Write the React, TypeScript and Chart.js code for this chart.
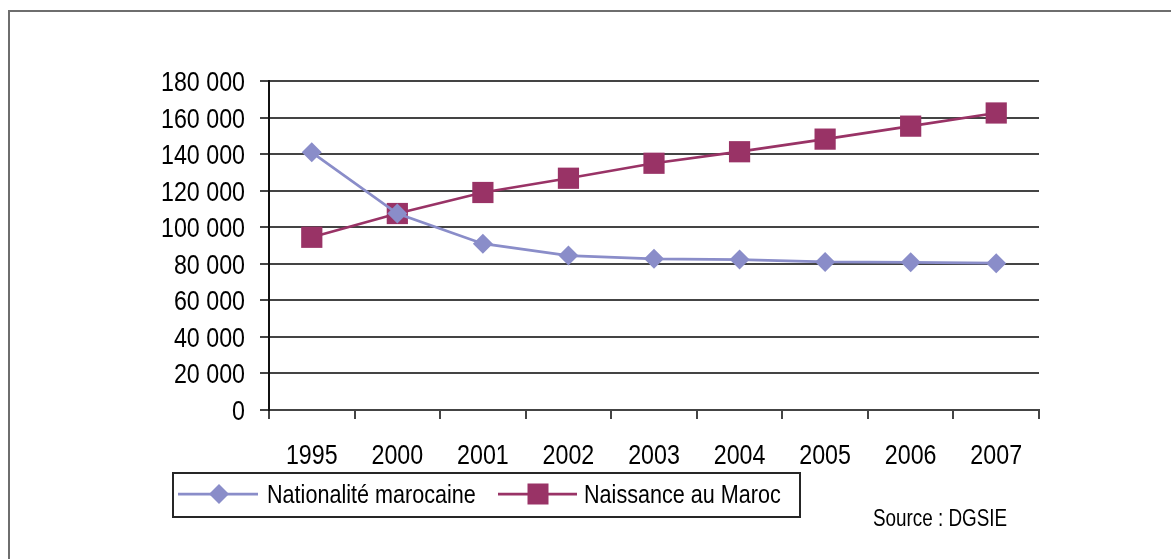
import React, { useEffect, useRef } from "react";
import { Chart, registerables } from "chart.js";

Chart.register(...registerables);

const categories = ["1995", "2000", "2001", "2002", "2003", "2004", "2005", "2006", "2007"];
const nationaliteMarocaine = [141000, 107500, 91000, 84500, 82700, 82300, 81000, 80800, 80300];
const naissanceAuMaroc = [94500, 107500, 119000, 126800, 135000, 141300, 148200, 155300, 162500];
const seriesLabels = ["Nationalité marocaine", "Naissance au Maroc"];
const sourceText = "Source : DGSIE";
const yMin = 0;
const yMax = 180000;
const yStep = 20000;

const FONT = '"Liberation Sans", Arial, sans-serif';
const NARROW = 0.83;
const BLUE = "#8a8dc9";
const PLUM = "#993366";
const GRID = "#444444";

function formatThousands(v: number): string {
  const s = Math.round(v).toString();
  return s.replace(/\B(?=(\d{3})+(?!\d))/g, " ");
}

function narrowText(ctx: any, text: string, x: number, y: number, align: string, sx: number) {
  ctx.save();
  ctx.translate(x, y);
  ctx.scale(sx, 1);
  ctx.textAlign = align;
  ctx.fillText(text, 0, 0);
  ctx.restore();
}

const framePlugin = {
  id: "frame",
  beforeDraw(chart: any) {
    const ctx = chart.ctx;
    ctx.save();
    ctx.fillStyle = "#ffffff";
    ctx.fillRect(0, 0, chart.width, chart.height);
    ctx.strokeStyle = "#6e6e6e";
    ctx.lineWidth = 2;
    ctx.strokeRect(9, 11, 1400, 800);
    ctx.restore();
  },
};

const tickLabelPlugin = {
  id: "narrowTicks",
  afterDraw(chart: any) {
    const ctx = chart.ctx;
    const xs = chart.scales.x;
    const ys = chart.scales.y;
    ctx.save();
    ctx.fillStyle = "#000";
    ctx.font = `28px ${FONT}`;
    ctx.textBaseline = "alphabetic";
    ys.ticks.forEach((t: any) => {
      const py = ys.getPixelForValue(t.value);
      narrowText(ctx, formatThousands(t.value), ys.right - 9 - 15, py + 10, "right", NARROW);
    });
    (chart.data.labels as string[]).forEach((lab, i) => {
      const px = xs.getPixelForValue(i);
      narrowText(ctx, lab, px, xs.top + 9 + 45, "center", NARROW);
    });
    ctx.restore();
  },
};

const legendPlugin = {
  id: "customLegend",
  afterDraw(chart: any) {
    const ctx = chart.ctx;
    const ds = chart.data.datasets;
    ctx.save();
    ctx.strokeStyle = "#262626";
    ctx.lineWidth = 2;
    ctx.strokeRect(173, 473, 627, 44);
    const cy = 494;
    ctx.font = `26px ${FONT}`;
    ctx.textBaseline = "alphabetic";
    // item 1
    ctx.strokeStyle = ds[0].borderColor;
    ctx.lineWidth = 2.75;
    ctx.beginPath();
    ctx.moveTo(178, cy);
    ctx.lineTo(258, cy);
    ctx.stroke();
    ctx.fillStyle = ds[0].pointBackgroundColor;
    ctx.beginPath();
    ctx.moveTo(219 - 10, cy);
    ctx.lineTo(219, cy - 10);
    ctx.lineTo(219 + 10, cy);
    ctx.lineTo(219, cy + 10);
    ctx.closePath();
    ctx.fill();
    ctx.fillStyle = "#000";
    narrowText(ctx, ds[0].label, 267, cy + 9, "left", NARROW);
    // item 2
    ctx.strokeStyle = ds[1].borderColor;
    ctx.lineWidth = 2.75;
    ctx.beginPath();
    ctx.moveTo(498, cy);
    ctx.lineTo(577, cy);
    ctx.stroke();
    ctx.fillStyle = ds[1].pointBackgroundColor;
    ctx.fillRect(538 - 10.5, cy - 10.5, 21, 21);
    ctx.fillStyle = "#000";
    narrowText(ctx, ds[1].label, 584, cy + 9, "left", NARROW);
    // source
    ctx.font = `23px ${FONT}`;
    narrowText(ctx, sourceText, 873, 526, "left", 0.82);
    ctx.restore();
  },
};

export default function App() {
  const ref = useRef<HTMLCanvasElement | null>(null);
  useEffect(() => {
    if (!ref.current) return;
    const chart = new Chart(ref.current, {
      type: "line",
      data: {
        labels: categories,
        datasets: [
          {
            label: seriesLabels[0],
            data: nationaliteMarocaine,
            borderColor: BLUE,
            backgroundColor: BLUE,
            pointBackgroundColor: BLUE,
            pointBorderColor: BLUE,
            borderWidth: 2.75,
            pointStyle: "rectRot",
            pointRadius: 10,
            pointBorderWidth: 0,
            tension: 0,
          },
          {
            label: seriesLabels[1],
            data: naissanceAuMaroc,
            borderColor: PLUM,
            backgroundColor: PLUM,
            pointBackgroundColor: PLUM,
            pointBorderColor: PLUM,
            borderWidth: 2.75,
            pointStyle: "rect",
            pointRadius: 15,
            pointBorderWidth: 0,
            tension: 0,
          },
        ],
      },
      options: {
        responsive: false,
        animation: false,
        layout: { padding: { left: 0, top: 81, right: 132, bottom: 89 } },
        plugins: {
          legend: { display: false },
          tooltip: { enabled: false },
          title: { display: false },
        },
        scales: {
          x: {
            type: "category",
            offset: true,
            grid: {
              display: true,
              offset: true,
              drawOnChartArea: false,
              drawTicks: true,
              tickLength: 9,
              color: GRID,
              lineWidth: 2,
            },
            border: { display: true, color: GRID, width: 2 },
            ticks: { display: false, autoSkip: false },
            afterFit(scale: any) {
              scale.height = 60;
            },
          },
          y: {
            min: yMin,
            max: yMax,
            grid: {
              color: GRID,
              lineWidth: 2,
              drawTicks: true,
              tickLength: 9,
            },
            border: { display: true, color: "#111111", width: 2 },
            ticks: { display: false, stepSize: yStep, autoSkip: false },
            afterFit(scale: any) {
              scale.width = 269;
            },
          },
        },
      },
      plugins: [framePlugin, tickLabelPlugin, legendPlugin],
    });
    return () => chart.destroy();
  }, []);
  return (
    <div style={{ position: "fixed", left: 0, top: 0, width: 1171, height: 559 }}>
      <canvas ref={ref} width={1171} height={559} style={{ display: "block" }} />
    </div>
  );
}
